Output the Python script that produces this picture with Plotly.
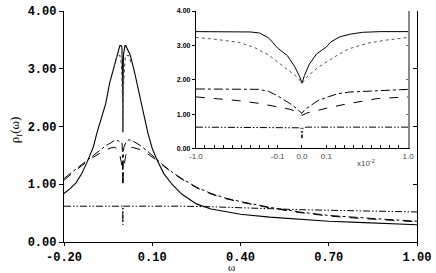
import numpy as np
import plotly.graph_objects as go

# ---------------- main panel data (omega outside the central +-0.01 window) --------
sol_wL = [-0.20, -0.18, -0.16, -0.14, -0.12, -0.10, -0.088, -0.07, -0.058, -0.045, -0.034, -0.02, -0.012]
sol_rL = [0.84, 0.92, 1.02, 1.18, 1.40, 1.65, 1.89, 2.20, 2.40, 2.75, 2.96, 3.24, 3.38]
sol_wR = [0.012, 0.025, 0.039, 0.05, 0.065, 0.075, 0.085, 0.10, 0.117, 0.14, 0.167, 0.20, 0.25, 0.30, 0.40, 0.50, 0.60, 0.70, 0.80, 0.90, 1.00]
sol_rR = [3.38, 3.24, 2.96, 2.70, 2.40, 2.15, 1.89, 1.62, 1.41, 1.18, 1.00, 0.83, 0.66, 0.57, 0.48, 0.43, 0.39, 0.36, 0.34, 0.32, 0.30]

dot_wL = [-0.03, -0.02, -0.015]
dot_rL = [3.05, 3.22, 3.23]
dot_wR = [0.015, 0.02, 0.03]
dot_rR = [3.23, 3.23, 3.08]

dd_wL = [-0.20, -0.18, -0.16, -0.14, -0.12, -0.10, -0.08, -0.06, -0.04, -0.025, -0.015]
dd_rL = [1.10, 1.18, 1.26, 1.34, 1.42, 1.50, 1.58, 1.66, 1.72, 1.77, 1.75]
dd_wR = [0.015, 0.021, 0.03, 0.04, 0.06, 0.08, 0.10, 0.117, 0.14, 0.17, 0.20, 0.25, 0.30, 0.35, 0.40, 0.50, 0.60, 0.70, 0.80, 0.90, 1.00]
dd_rR = [1.75, 1.77, 1.76, 1.73, 1.67, 1.59, 1.50, 1.42, 1.32, 1.20, 1.10, 0.95, 0.84, 0.76, 0.70, 0.60, 0.52, 0.46, 0.42, 0.39, 0.36]

da_wL = [-0.20, -0.18, -0.16, -0.14, -0.12, -0.10, -0.08, -0.06, -0.04, -0.029, -0.02, -0.015]
da_rL = [1.07, 1.16, 1.24, 1.32, 1.40, 1.47, 1.53, 1.59, 1.63, 1.64, 1.62, 1.57]
da_wR = [0.015, 0.02, 0.031, 0.04, 0.06, 0.08, 0.10, 0.117, 0.14, 0.17, 0.20, 0.25, 0.30, 0.35, 0.40, 0.50, 0.60, 0.70, 0.80, 0.90, 1.00]
da_rR = [1.56, 1.61, 1.64, 1.63, 1.60, 1.54, 1.47, 1.41, 1.31, 1.19, 1.09, 0.94, 0.83, 0.75, 0.69, 0.59, 0.51, 0.45, 0.41, 0.38, 0.35]

d3_wL = [-0.20, -0.10, -0.02]
d3_rL = [0.62, 0.62, 0.62]
d3_wR = [0.02, 0.10, 0.20, 0.30, 0.40, 0.50, 0.60, 0.70, 0.80, 0.90, 1.00]
d3_rR = [0.62, 0.63, 0.62, 0.61, 0.59, 0.57, 0.56, 0.55, 0.54, 0.53, 0.52]

# ---------------- inset data (u in units of 1e-2 omega) ----------------
sol_u = [-1.0, -0.6, -0.4, -0.3, -0.2, -0.1, -0.06, -0.03, -0.01, 0.0, 0.01, 0.03, 0.06, 0.1, 0.15, 0.25, 0.37, 0.5, 0.7, 1.0]
sol_r = [3.40, 3.40, 3.39, 3.36, 3.22, 2.92, 2.70, 2.38, 2.10, 1.90, 2.12, 2.45, 2.75, 2.95, 3.10, 3.25, 3.33, 3.38, 3.40, 3.40]

dot_u = [-1.0, -0.8, -0.53, -0.35, -0.2, -0.1, -0.057, -0.02, 0.0, 0.02, 0.065, 0.12, 0.225, 0.35, 0.553, 0.75, 0.9, 1.0]
dot_r = [3.23, 3.18, 3.09, 2.93, 2.72, 2.52, 2.30, 2.08, 1.90, 2.08, 2.35, 2.55, 2.72, 2.90, 3.06, 3.15, 3.20, 3.23]

dd_u = [-1.0, -0.5, -0.31, -0.2, -0.1, -0.037, -0.01, 0.0, 0.01, 0.065, 0.12, 0.225, 0.35, 0.553, 0.8, 1.0]
dd_r = [1.73, 1.73, 1.72, 1.66, 1.53, 1.25, 1.10, 1.02, 1.12, 1.39, 1.50, 1.59, 1.64, 1.67, 1.71, 1.72]

da_u = [-1.0, -0.531, -0.3, -0.1, -0.05, -0.016, 0.0, 0.02, 0.065, 0.15, 0.335, 0.66, 1.0]
da_r = [1.50, 1.39, 1.31, 1.22, 1.14, 1.05, 0.96, 1.03, 1.11, 1.20, 1.30, 1.45, 1.50]

d3_u = [-1.0, -0.3, -0.02, -0.004, 0.0, 0.004, 0.02, 0.3, 1.0]
d3_r = [0.62, 0.62, 0.62, 0.60, 0.30, 0.60, 0.62, 0.62, 0.62]

# tick labels
main_xticks = [-0.20, 0.10, 0.40, 0.70, 1.00]
main_yticks = [0.0, 1.0, 2.0, 3.0, 4.0]
inset_xlabels = {-1.0: "-1.0", -0.1: "-0.1", 0.0: "0.0", 0.1: "0.1", 1.0: "1.0"}
inset_yticks = [0.0, 1.0, 2.0, 3.0, 4.0]


def T(u):
    """piecewise-linear inset scale: inner [-0.1,0.1] stretched"""
    u = np.asarray(u, dtype=float)
    a = np.abs(u)
    t = np.where(a <= 0.1, a / 0.1 * 0.229, 0.229 + (a - 0.1) / 0.9 * 0.771)
    return np.sign(u) * t


def full(wL, rL, u, r, wR, rR):
    x = list(wL) + [v * 0.01 for v in u] + list(wR)
    y = list(rL) + list(r) + list(rR)
    return x, y


DDD = "7px,2px,1.5px,2px,1.5px,2px"
styles = [
    ("sol", dict(color="black", width=1.1, dash="solid")),
    ("dot", dict(color="#555555", width=1.1, dash="dot")),
    ("dd", dict(color="black", width=1.0, dash="dashdot")),
    ("da", dict(color="black", width=1.0, dash="dash")),
    ("d3", dict(color="black", width=1.0, dash=DDD)),
]
main_data = {
    "sol": full(sol_wL, sol_rL, sol_u, sol_r, sol_wR, sol_rR),
    "dot": full(dot_wL, dot_rL, dot_u, dot_r, dot_wR, dot_rR),
    "dd": full(dd_wL, dd_rL, dd_u, dd_r, dd_wR, dd_rR),
    "da": full(da_wL, da_rL, da_u, da_r, da_wR, da_rR),
    "d3": full(d3_wL, d3_rL, d3_u, d3_r, d3_wR, d3_rR),
}
inset_data = {
    "sol": (sol_u, sol_r), "dot": (dot_u, dot_r), "dd": (dd_u, dd_r),
    "da": (da_u, da_r), "d3": (d3_u, d3_r),
}

fig = go.Figure()
for name, ln in styles:
    x, y = main_data[name]
    fig.add_trace(go.Scatter(x=x, y=y, mode="lines", line=ln, xaxis="x", yaxis="y",
                             showlegend=False, hoverinfo="skip"))
# dummy for right mirror axis
fig.add_trace(go.Scatter(x=[0.5], y=[2], mode="markers", marker=dict(opacity=0),
                         xaxis="x", yaxis="y2", showlegend=False, hoverinfo="skip"))
for name, ln in styles:
    u, r = inset_data[name]
    ln2 = dict(ln)
    ln2["width"] = 1.0
    fig.add_trace(go.Scatter(x=T(u), y=r, mode="lines", line=ln2, xaxis="x2", yaxis="y3",
                             showlegend=False, hoverinfo="skip"))
fig.add_trace(go.Scatter(x=[0], y=[2], mode="markers", marker=dict(opacity=0),
                         xaxis="x2", yaxis="y4", showlegend=False, hoverinfo="skip"))

W, H = 436, 273
L, R, Tm, B = 64, 16, 5, 31
pw, ph = W - L - R, H - Tm - B


def px(xp):
    return (xp - L) / pw


def py(yp):
    return (H - B - yp) / ph


tickfont_main = dict(family="Liberation Mono", size=12, color="black", weight="bold")
ix0, ix1 = px(197), px(411)
iy0, iy1 = py(146), py(5)

inset_tick_u = [round(-1.0 + 0.1 * k, 1) for k in range(10)] + [0.0] + [round(0.1 + 0.1 * k, 1) for k in range(10)]
inset_tick_text = [inset_xlabels.get(v, " ") for v in inset_tick_u]

fig.update_layout(
    width=W, height=H,
    margin=dict(l=L, r=R, t=Tm, b=B, pad=0),
    paper_bgcolor="white", plot_bgcolor="white",
    xaxis=dict(range=[-0.2, 1.0], domain=[0, 1], tickvals=main_xticks,
               ticktext=[f"{v:.2f}" for v in main_xticks], tickfont=tickfont_main,
               showline=True, linecolor="black", linewidth=1.3, ticks="outside",
               ticklen=3, tickcolor="black", showgrid=False, zeroline=False, anchor="y"),
    yaxis=dict(range=[0, 4], domain=[0, 1], tickvals=main_yticks,
               ticktext=[f"{v:.2f}" for v in main_yticks], tickfont=tickfont_main,
               showline=True, linecolor="black", linewidth=1.3, ticks="outside",
               ticklen=4, tickcolor="black", showgrid=False, zeroline=False, anchor="x"),
    yaxis2=dict(range=[0, 4], overlaying="y", side="right", anchor="x", tickvals=main_yticks,
                showticklabels=False, showline=True, linecolor="black", linewidth=1.3,
                ticks="inside", ticklen=4, tickcolor="black", showgrid=False, zeroline=False),
    xaxis2=dict(range=[-1, 1], domain=[ix0, ix1], anchor="y3", tickvals=list(T(inset_tick_u)),
                ticktext=inset_tick_text, tickangle=0,
                tickfont=dict(family="Liberation Sans", size=8, color="#444444"),
                showline=True, linecolor="black", linewidth=1, ticks="inside", ticklen=3,
                tickcolor="black", showgrid=False, zeroline=False),
    yaxis3=dict(range=[0, 4], domain=[iy0, iy1], anchor="x2", tickvals=inset_yticks,
                ticktext=[f"{v:.2f}" for v in inset_yticks],
                tickfont=dict(family="Liberation Sans", size=7, color="black", weight="bold"),
                showline=True, linecolor="black", linewidth=1, ticks="outside", ticklen=3,
                tickcolor="black", showgrid=False, zeroline=False),
    yaxis4=dict(range=[0, 4], overlaying="y3", side="right", anchor="x2", tickvals=[1, 2, 3],
                showticklabels=False, showline=True, linecolor="#888888", linewidth=2,
                ticks="inside", ticklen=2, tickcolor="#666666", showgrid=False, zeroline=False),
    annotations=[
        dict(x=px(233), y=py(267.5), xref="paper", yref="paper", text="ω", showarrow=False,
             xanchor="center", yanchor="middle",
             font=dict(family="Liberation Serif", size=11, color="black")),
        dict(x=px(16), y=py(127), xref="paper", yref="paper", text="ρ<sub>f</sub>(ω)",
             showarrow=False, textangle=-90, xanchor="center", yanchor="middle",
             font=dict(family="Liberation Serif", size=13, color="black")),
        dict(x=px(369), y=py(161), xref="paper", yref="paper", text="x10<sup>-2</sup>",
             showarrow=False, xanchor="center", yanchor="middle",
             font=dict(family="Liberation Sans", size=8, color="#444444")),
    ],
)
fig.write_html("out.html", post_script="document.body.style.margin='0px';",
               config={"displayModeBar": False})
